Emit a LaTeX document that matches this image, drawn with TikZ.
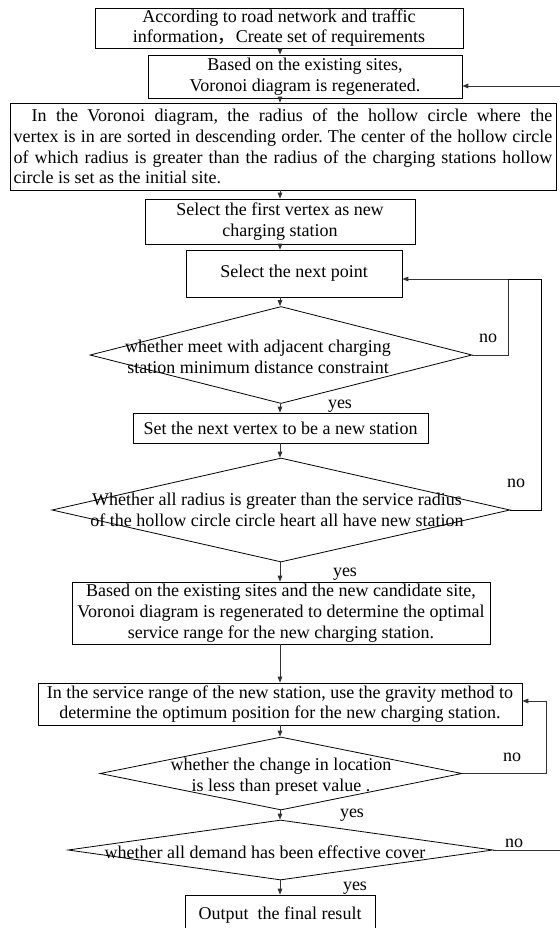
\documentclass[tikz,border=0pt]{standalone}
\usepackage{fontspec}
\setmainfont{Liberation Serif}
\newfontfamily\cjk{Noto Sans CJK SC}
\usetikzlibrary{arrows.meta,shapes.geometric,calc}
\tikzset{wh/.style 2 args={minimum width=#1*0.75pt, minimum height=#2*0.75pt}}
\begin{document}
\frenchspacing
\begin{tikzpicture}[x=0.75pt,y=-0.75pt,
  font=\fontsize{13.5}{15.6}\selectfont,
  box/.style={draw, line width=0.6pt, inner sep=0pt, align=center},
  dia/.style={draw, diamond, line width=0.6pt, inner sep=0pt},
  lbl/.style={inner sep=0pt, align=center},
  arr/.style={line width=0.7pt, draw=black!80, -{Triangle[length=4.5pt,width=3.5pt]}},
  ln/.style={line width=0.6pt}]
\useasboundingbox (0,0) rectangle (560,928);
% boxes
\node[box, wh={368}{40}] (b1) at (279,28) {According to road network and traffic\\information{\cjk ，}Create set of requirements};
\node[box, wh={314}{43}] (b2) at (305,76.5) {Based on the existing sites,\\Voronoi diagram is regenerated.};
\node[box, wh={546}{87}, align=left] (b3) at (283,146.5) {%
\makebox[404pt][s]{\hspace*{1em}In the Voronoi diagram, the radius of the hollow circle where the}\\
\makebox[404pt][s]{vertex is in are sorted in descending order. The center of the hollow circle}\\
\makebox[404pt][s]{of which radius is greater than the radius of the charging stations hollow}\\
circle is set as the initial site.};
\node[box, wh={270}{45}] (b4) at (280,221.5) {Select the first vertex as new\\charging station};
\node[box, wh={216}{47}] (b5) at (294,273.5) {Select the next point};
\node[dia, wh={382}{97}] (d1) at (281,355) {};
\node[lbl] (t1) at (258,357) {whether meet with adjacent charging\\station minimum distance constraint};
\node[box, wh={295}{30}] (b6) at (280.5,428) {Set the next vertex to be a new station};
\node[dia, wh={458}{104}] (d2) at (281,510) {};
\node[lbl] (t2) at (277,510) {Whether all radius is greater than the service radius\\of the hollow circle circle heart all have new station};
\node[box, wh={418}{62}] (b7) at (281,613) {Based on the existing sites and the new candidate site,\\Voronoi diagram is regenerated to determine the optimal\\service range for the new charging station.};
\node[box, wh={484}{42}] (b8) at (280,704) {In the service range of the new station, use the gravity method to\\determine the optimum position for the new charging station.};
\node[dia, wh={362}{73}] (d3) at (281,773.5) {};
\node[lbl] (t3) at (281,777) {whether the change in location\\is less than preset value .};
\node[dia, wh={425}{60}] (d4) at (280.5,850) {};
\node[lbl] (t4) at (265,852) {whether all demand has been effective cover};
\node[box, wh={190}{40}] (b9) at (280,915) {Output\ \ the final result};
% labels
\node[lbl] (n1) at (488,338) {no};
\node[lbl] (y1) at (340,406) {yes};
\node[lbl] (n2) at (516,483) {no};
\node[lbl] (y2) at (345,574) {yes};
\node[lbl] (n3) at (512,757) {no};
\node[lbl] (y3) at (352,815) {yes};
\node[lbl] (n4) at (514,843) {no};
\node[lbl] (y4) at (355,888) {yes};
% axis connectors
\coordinate (ax) at (280,0);
\draw[arr] (ax |- b1.south) -- (ax |- b2.north);
\draw[arr] (ax |- b2.south) -- (ax |- b3.north);
\draw[arr] (ax |- b3.south) -- (ax |- b4.north);
\draw[arr] (ax |- b4.south) -- (ax |- b5.north);
\draw[arr] (ax |- b5.south) -- (ax |- d1.north);
\draw[arr] (ax |- d1.south) -- (ax |- b6.north);
\draw[arr] (ax |- b6.south) -- (ax |- d2.north);
\draw[arr] (ax |- d2.south) -- (ax |- b7.north);
\draw[arr] (ax |- b7.south) -- (ax |- b8.north);
\draw[arr] (ax |- b8.south) -- (ax |- d3.north);
\draw[arr] (ax |- d3.south) -- (ax |- d4.north);
\draw[arr] (ax |- d4.south) -- (ax |- b9.north);
% feedback connectors
\coordinate (r1) at (508,0);
\coordinate (r2) at (541,0);
\coordinate (r3) at (546,0);
\coordinate (r4) at (561.5,0);
\coordinate (h5) at (0,279);
\coordinate (h8) at (0,701);
\coordinate (h2) at (0,86);
\coordinate (in5) at (b5.east |- h5);
\coordinate (in8) at (b8.east |- h8);
\coordinate (in2) at (b2.east |- h2);
\draw[arr] (d1.east) -- (r1 |- d1.east) -- (r1 |- in5) -- (in5);
\draw[ln] (d2.east) -- (r2 |- d2.east) -- (r2 |- in5) -- (r1 |- in5);
\draw[arr] (d3.east) -- (r3 |- d3.east) -- (r3 |- in8) -- (in8);
\draw[arr] (d4.east) -- (r4 |- d4.east) -- (r4 |- in2) -- (in2);
\end{tikzpicture}
\end{document}
